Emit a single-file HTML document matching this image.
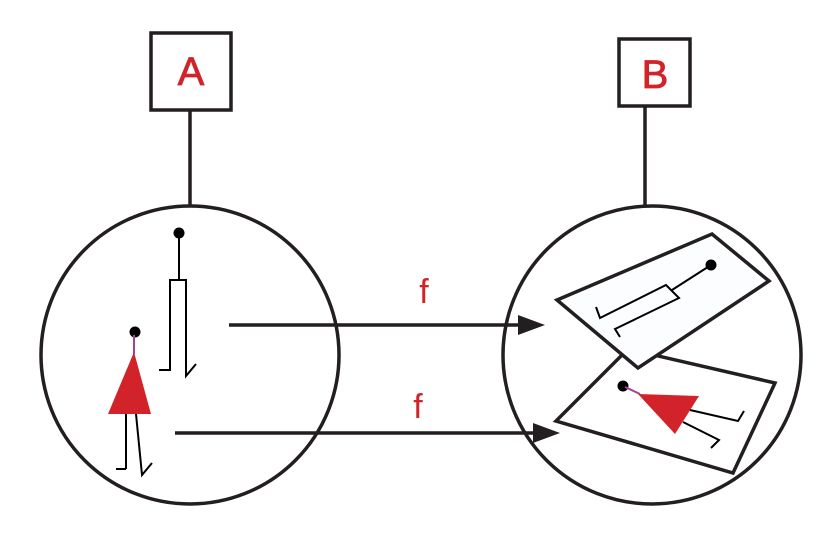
<!DOCTYPE html>
<html><head><style>body{margin:0;background:#fff}</style></head><body>
<svg width="821" height="539" xmlns="http://www.w3.org/2000/svg" font-family="Liberation Sans, sans-serif">
<g stroke="#231f20" stroke-width="3.5" fill="none">
<rect x="151" y="33" width="80" height="77"/>
<rect x="619" y="39" width="71" height="67"/>
<line x1="190" y1="110" x2="190" y2="207"/>
<line x1="645" y1="106" x2="645" y2="205"/>
<circle cx="190" cy="355" r="149"/>
<circle cx="652" cy="355" r="149"/>
<line x1="229" y1="325" x2="522" y2="325"/>
<line x1="175" y1="433" x2="536" y2="433"/>
</g>
<polygon points="545,325 518,315 518,335" fill="#231f20"/>
<polygon points="560,433 533,423 533,443" fill="#231f20"/>
<text x="424" y="303" font-size="34" fill="#d2232a" text-anchor="middle">f</text>
<text x="418" y="418" font-size="34" fill="#d2232a" text-anchor="middle">f</text>
<text x="191" y="85" font-size="40" fill="#d2232a" text-anchor="middle" stroke="#d2232a" stroke-width="0.8">A</text>
<text x="655" y="88" font-size="40" fill="#d2232a" text-anchor="middle" stroke="#d2232a" stroke-width="0.8">B</text>
<circle cx="179" cy="233" r="5.5" fill="#000"/>
<g stroke="#000" stroke-width="2" fill="none">
<line x1="179" y1="233" x2="179" y2="280"/>
<polyline points="159,370 170,370 170,280 186,280 186,376 196,364"/>
<line x1="126" y1="414" x2="126" y2="469"/><line x1="116" y1="469" x2="126" y2="469"/>
<polyline points="136,414 142,475 152,463"/>
</g>
<circle cx="135" cy="332" r="5.5" fill="#000"/>
<line x1="134" y1="335" x2="134" y2="354" stroke="#a0449a" stroke-width="2"/>
<polygon points="134,352 108,414 151,414" fill="#d2232a"/>
<polygon points="628,349 775,383 733,473 556,421" fill="#fff" stroke="#231f20" stroke-width="3.5"/>
<circle cx="623" cy="386" r="5.5" fill="#000"/>
<line x1="625" y1="387" x2="640" y2="394" stroke="#a0449a" stroke-width="2"/>
<g stroke="#000" stroke-width="2" fill="none">
<polyline points="690,410 738,421 744,411"/>
<polyline points="683,422 719,440 711,448"/>
</g>
<polygon points="638,394 699,396 675,434" fill="#d2232a"/>
<polygon points="557,300 712,234 769,281 638,368" fill="#fcfdff" stroke="#231f20" stroke-width="3.5"/>
<circle cx="711" cy="265" r="5.5" fill="#000"/>
<g stroke="#000" stroke-width="2" fill="none">
<line x1="711" y1="265" x2="672" y2="290"/>
<polyline points="596,307 600,318 666,285 679,298 615,329 620,337"/>
</g>
</svg>
</body></html>
